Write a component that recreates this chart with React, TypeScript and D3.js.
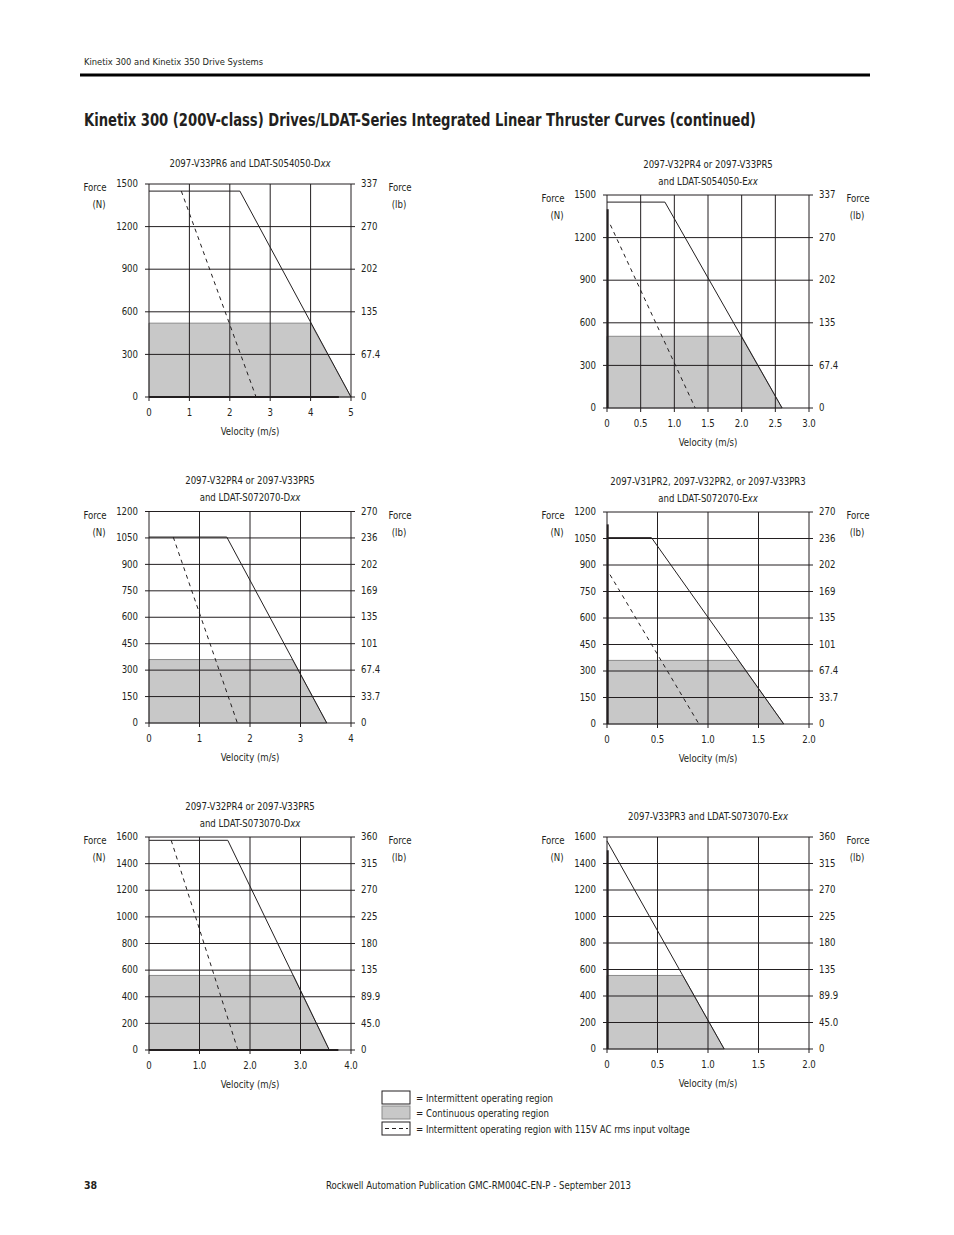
import React, { useLayoutEffect, useRef, useState } from "react";
import * as d3 from "d3";

type Pt = [number, number];

// ---------- Data ----------
// Chart 1: 2097-V33PR6 and LDAT-S054050-Dxx
const c1Title = ["2097-V33PR6 and LDAT-S054050-Dxx"];
const c1Intermittent: Pt[] = [[0, 1450], [2.25, 1450], [5, 0]];
const c1Continuous: Pt[] = [[0, 520], [4, 520], [5, 0]];
const c1Dashed: Pt[] = [[0.8, 1450], [2.65, 0]];
const c1ForceN = [0, 300, 600, 900, 1200, 1500];
const c1ForceLb = ["0", "67.4", "135", "202", "270", "337"];
const c1Velocity = [0, 1, 2, 3, 4, 5];
const c1VelocityLabels = ["0", "1", "2", "3", "4", "5"];

// Chart 2: 2097-V32PR4 or 2097-V33PR5 and LDAT-S054050-Exx
const c2Title = ["2097-V32PR4 or 2097-V33PR5", "and LDAT-S054050-Exx"];
const c2Intermittent: Pt[] = [[0, 1450], [0.86, 1450], [2.6, 0]];
const c2Continuous: Pt[] = [[0, 505], [2.0, 505], [2.6, 0]];
const c2Dashed: Pt[] = [[0.05, 1290], [1.31, 0]];
const c2ForceN = [0, 300, 600, 900, 1200, 1500];
const c2ForceLb = ["0", "67.4", "135", "202", "270", "337"];
const c2Velocity = [0, 0.5, 1, 1.5, 2, 2.5, 3];
const c2VelocityLabels = ["0", "0.5", "1.0", "1.5", "2.0", "2.5", "3.0"];
const c2PeakBar: Pt[] = [[0.01, 0], [0.01, 1400]];

// Chart 3: 2097-V32PR4 or 2097-V33PR5 and LDAT-S072070-Dxx
const c3Title = ["2097-V32PR4 or 2097-V33PR5", "and LDAT-S072070-Dxx"];
const c3Intermittent: Pt[] = [[0, 1055], [1.54, 1055], [3.52, 0]];
const c3Continuous: Pt[] = [[0, 360], [2.84, 360], [3.52, 0]];
const c3Dashed: Pt[] = [[0.48, 1055], [1.75, 0]];
const c3ForceN = [0, 150, 300, 450, 600, 750, 900, 1050, 1200];
const c3ForceLb = ["0", "33.7", "67.4", "101", "135", "169", "202", "236", "270"];
const c3Velocity = [0, 1, 2, 3, 4];
const c3VelocityLabels = ["0", "1", "2", "3", "4"];

// Chart 4: 2097-V31PR2, 2097-V32PR2, or 2097-V33PR3 and LDAT-S072070-Exx
const c4Title = ["2097-V31PR2, 2097-V32PR2, or 2097-V33PR3", "and LDAT-S072070-Exx"];
const c4Intermittent: Pt[] = [[0, 1055], [0.44, 1055], [1.75, 0]];
const c4Continuous: Pt[] = [[0, 360], [1.3, 360], [1.75, 0]];
const c4Dashed: Pt[] = [[0.03, 845], [0.91, 0]];
const c4ForceN = [0, 150, 300, 450, 600, 750, 900, 1050, 1200];
const c4ForceLb = ["0", "33.7", "67.4", "101", "135", "169", "202", "236", "270"];
const c4Velocity = [0, 0.5, 1, 1.5, 2];
const c4VelocityLabels = ["0", "0.5", "1.0", "1.5", "2.0"];
const c4PeakBar: Pt[] = [[0.007, 0], [0.007, 1130]];

// Chart 5: 2097-V32PR4 or 2097-V33PR5 and LDAT-S073070-Dxx
const c5Title = ["2097-V32PR4 or 2097-V33PR5", "and LDAT-S073070-Dxx"];
const c5Intermittent: Pt[] = [[0, 1575], [1.56, 1575], [3.57, 0]];
const c5Continuous: Pt[] = [[0, 560], [2.86, 560], [3.57, 0]];
const c5Dashed: Pt[] = [[0.44, 1575], [1.76, 0]];
const c5ForceN = [0, 200, 400, 600, 800, 1000, 1200, 1400, 1600];
const c5ForceLb = ["0", "45.0", "89.9", "135", "180", "225", "270", "315", "360"];
const c5Velocity = [0, 1, 2, 3, 4];
const c5VelocityLabels = ["0", "1.0", "2.0", "3.0", "4.0"];

// Chart 6: 2097-V33PR3 and LDAT-S073070-Exx
const c6Title = ["2097-V33PR3 and LDAT-S073070-Exx"];
const c6Intermittent: Pt[] = [[0, 1570], [1.16, 0]];
const c6Continuous: Pt[] = [[0, 555], [0.75, 555], [1.16, 0]];
const c6Dashed: Pt[] = [];
const c6ForceN = [0, 200, 400, 600, 800, 1000, 1200, 1400, 1600];
const c6ForceLb = ["0", "45.0", "89.9", "135", "180", "225", "270", "315", "360"];
const c6Velocity = [0, 0.5, 1, 1.5, 2];
const c6VelocityLabels = ["0", "0.5", "1.0", "1.5", "2.0"];
const c6PeakBar: Pt[] = [[0.007, 0], [0.007, 1500]];

// Bottom thick baselines
const c1Baseline: Pt[] = [[0, 0], [4.7, 0]];
const c5Baseline: Pt[] = [[0, 0], [3.75, 0]];

const legendLabels = [
  "= Intermittent operating region",
  "= Continuous operating region",
  "= Intermittent operating region with 115V AC rms input voltage",
];
const legendWidths = [137, 133, 274];

// ---------- Layout ----------
interface ChartCfg {
  left: number;
  top: number;
  width: number;
  height: number;
  title: string[];
  intermittent: Pt[];
  continuous: Pt[];
  dashed: Pt[];
  forceN: number[];
  forceLb: string[];
  velocity: number[];
  velocityLabels: string[];
  extras: Pt[][];
}

const charts: ChartCfg[] = [
  { left: 149, top: 184, width: 202, height: 213, title: c1Title, intermittent: c1Intermittent, continuous: c1Continuous, dashed: c1Dashed, forceN: c1ForceN, forceLb: c1ForceLb, velocity: c1Velocity, velocityLabels: c1VelocityLabels, extras: [c1Baseline] },
  { left: 607, top: 195, width: 202, height: 213, title: c2Title, intermittent: c2Intermittent, continuous: c2Continuous, dashed: c2Dashed, forceN: c2ForceN, forceLb: c2ForceLb, velocity: c2Velocity, velocityLabels: c2VelocityLabels, extras: [c2PeakBar] },
  { left: 149, top: 511.5, width: 202, height: 211.5, title: c3Title, intermittent: c3Intermittent, continuous: c3Continuous, dashed: c3Dashed, forceN: c3ForceN, forceLb: c3ForceLb, velocity: c3Velocity, velocityLabels: c3VelocityLabels, extras: [] },
  { left: 607, top: 512, width: 202, height: 212, title: c4Title, intermittent: c4Intermittent, continuous: c4Continuous, dashed: c4Dashed, forceN: c4ForceN, forceLb: c4ForceLb, velocity: c4Velocity, velocityLabels: c4VelocityLabels, extras: [c4PeakBar] },
  { left: 149, top: 837, width: 202, height: 213, title: c5Title, intermittent: c5Intermittent, continuous: c5Continuous, dashed: c5Dashed, forceN: c5ForceN, forceLb: c5ForceLb, velocity: c5Velocity, velocityLabels: c5VelocityLabels, extras: [c5Baseline] },
  { left: 607, top: 837, width: 202, height: 212, title: c6Title, intermittent: c6Intermittent, continuous: c6Continuous, dashed: c6Dashed, forceN: c6ForceN, forceLb: c6ForceLb, velocity: c6Velocity, velocityLabels: c6VelocityLabels, extras: [c6PeakBar] },
];

const FONT = "'Liberation Sans Narrow', 'DejaVu Sans Condensed', 'Arial Narrow', sans-serif";
const INK = "#231f20";
const GRAY_FILL = "#c8c8c8";
const FS = 10.5;
const SX = 0.91;

// Text horizontally condensed by a fixed factor
function T({ x, y, anchor = "start", children, italicTail }: { x: number; y: number; anchor?: "start" | "middle" | "end"; children: React.ReactNode; italicTail?: string }) {
  return (
    <text transform={`translate(${x},${y}) scale(${SX},1)`} textAnchor={anchor} dominantBaseline="middle" fontSize={FS} fill={INK}>
      {children}
      {italicTail && <tspan fontStyle="italic">{italicTail}</tspan>}
    </text>
  );
}

// Text fitted to a given width, measured after layout
function FitText({ x, y, width, fontSize, fontWeight, children }: { x: number; y: number; width: number; fontSize: number; fontWeight?: string; children: string }) {
  const ref = useRef<SVGTextElement>(null);
  const [s, setS] = useState(0.85);
  useLayoutEffect(() => {
    if (ref.current) {
      const w = ref.current.getComputedTextLength();
      if (w > 0) setS(width / w);
    }
  }, [width, children]);
  return (
    <text ref={ref} transform={`translate(${x},${y}) scale(${s},1)`} fontSize={fontSize} fontWeight={fontWeight} fill={INK}>
      {children}
    </text>
  );
}

function Chart({ c }: { c: ChartCfg }) {
  const xMax = c.velocity[c.velocity.length - 1];
  const yMax = c.forceN[c.forceN.length - 1];
  const x = d3.scaleLinear().domain([0, xMax]).range([c.left, c.left + c.width]);
  const y = d3.scaleLinear().domain([0, yMax]).range([c.top + c.height, c.top]);
  const line = d3.line<Pt>().x((d) => x(d[0])).y((d) => y(d[1]));
  const right = c.left + c.width;
  const bottom = c.top + c.height;
  const cx = c.left + c.width / 2;
  const titleYs = c.title.length === 1 ? [c.top - 20] : [c.top - 30.5, c.top - 13.5];

  return (
    <g fontFamily={FONT}>
      {c.title.map((t, i) => {
        const it = t.endsWith("xx");
        return (
          <T key={i} x={cx} y={titleYs[i]} anchor="middle" italicTail={it ? "xx" : undefined}>
            {it ? t.slice(0, -2) : t}
          </T>
        );
      })}
      {/* continuous region */}
      <path d={(line([[0, 0], ...c.continuous]) || "") + "Z"} fill={GRAY_FILL} stroke="#8a8a8a" strokeWidth={1} />
      {/* gridlines */}
      {c.forceN.map((f) => (
        <line key={"h" + f} x1={c.left} x2={right} y1={y(f)} y2={y(f)} stroke={INK} strokeWidth={1} />
      ))}
      {c.velocity.map((v) => (
        <line key={"v" + v} x1={x(v)} x2={x(v)} y1={c.top} y2={bottom} stroke={INK} strokeWidth={1} />
      ))}
      {/* ticks */}
      {c.forceN.map((f) => (
        <g key={"t" + f}>
          <line x1={c.left - 4} x2={c.left} y1={y(f)} y2={y(f)} stroke={INK} />
          <line x1={right} x2={right + 4} y1={y(f)} y2={y(f)} stroke={INK} />
        </g>
      ))}
      {c.velocity.map((v) => (
        <line key={"tx" + v} x1={x(v)} x2={x(v)} y1={bottom} y2={bottom + 4} stroke={INK} />
      ))}
      {/* extra thick strokes */}
      {c.extras.map((e, i) => (
        <path key={"e" + i} d={line(e) || ""} stroke={INK} strokeWidth={2} fill="none" />
      ))}
      {/* intermittent line */}
      <path d={line(c.intermittent) || ""} stroke={INK} strokeWidth={1} fill="none" />
      {/* dashed 115V */}
      {c.dashed.length > 0 && (
        <path d={line(c.dashed) || ""} stroke={INK} strokeWidth={1} strokeDasharray="4,4" fill="none" />
      )}
      {/* axis labels */}
      {c.forceN.map((f) => (
        <T key={"l" + f} x={c.left - 11} y={y(f)} anchor="end">
          {d3.format("d")(f)}
        </T>
      ))}
      {c.forceLb.map((lb, i) => (
        <T key={"r" + i} x={right + 10} y={y(c.forceN[i])}>
          {lb}
        </T>
      ))}
      {c.velocity.map((v, i) => (
        <T key={"b" + i} x={x(v)} y={bottom + 16} anchor="middle">
          {c.velocityLabels[i]}
        </T>
      ))}
      <T x={cx} y={bottom + 35} anchor="middle">Velocity (m/s)</T>
      <T x={c.left - 54} y={c.top + 4} anchor="middle">Force</T>
      <T x={c.left - 50} y={c.top + 21} anchor="middle">(N)</T>
      <T x={right + 49} y={c.top + 4} anchor="middle">Force</T>
      <T x={right + 48} y={c.top + 21} anchor="middle">(lb)</T>
    </g>
  );
}

function Legend() {
  const bx = 382;
  const ys = [1091, 1106, 1122];
  return (
    <g fontFamily={FONT}>
      <rect x={bx} y={ys[0]} width={28} height={13} fill="#fff" stroke={INK} />
      <rect x={bx} y={ys[1]} width={28} height={13} fill={GRAY_FILL} stroke="#8a8a8a" />
      <rect x={bx} y={ys[2]} width={28} height={13} fill="#fff" stroke={INK} />
      <line x1={bx + 3} x2={bx + 26} y1={ys[2] + 6.5} y2={ys[2] + 6.5} stroke={INK} strokeDasharray="4,3" />
      {legendLabels.map((t, i) => (
        <FitText key={i} x={416} y={ys[i] + 10.5} width={legendWidths[i]} fontSize={FS}>
          {t}
        </FitText>
      ))}
    </g>
  );
}

export default function App() {
  return (
    <svg width={954} height={1235} viewBox="0 0 954 1235" style={{ position: "absolute", left: 0, top: 0, background: "#fff" }}>
      <rect width={954} height={1235} fill="#fff" />
      <g fontFamily={FONT} fill={INK}>
        <FitText x={84} y={65} width={179} fontSize={9.5}>
          Kinetix 300 and Kinetix 350 Drive Systems
        </FitText>
        <line x1={80} x2={870} y1={75} y2={75} stroke="#000" strokeWidth={3} />
        <FitText x={84} y={126} width={672} fontSize={17} fontWeight="bold">
          Kinetix 300 (200V-class) Drives/LDAT-Series Integrated Linear Thruster Curves (continued)
        </FitText>
        <text x={84} y={1189} fontSize={FS} fontWeight="bold" fill={INK}>38</text>
        <FitText x={326} y={1189} width={305} fontSize={FS}>
          Rockwell Automation Publication GMC-RM004C-EN-P - September 2013
        </FitText>
      </g>
      {charts.map((c, i) => (
        <Chart key={i} c={c} />
      ))}
      <Legend />
    </svg>
  );
}
